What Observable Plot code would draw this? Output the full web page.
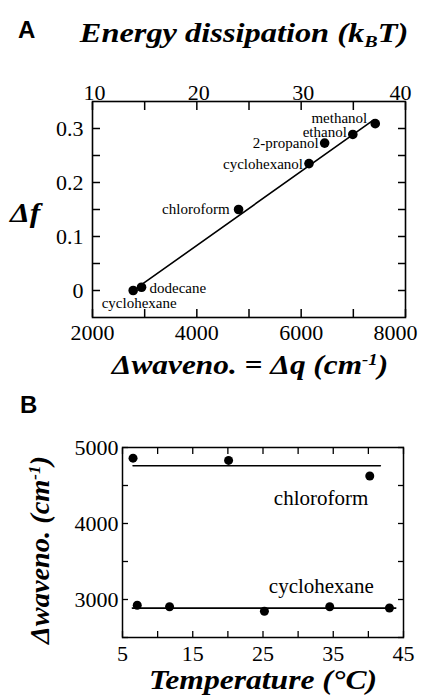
<!DOCTYPE html>
<html><head><meta charset="utf-8">
<script src="https://cdn.jsdelivr.net/npm/d3@7"></script>
<script src="https://cdn.jsdelivr.net/npm/@observablehq/plot@0.6"></script>
<style>
html,body{margin:0;padding:0;background:#fff;}
#wrap{position:relative;width:424px;height:696px;overflow:hidden;background:#fff;}
.abs{position:absolute;white-space:nowrap;line-height:1;color:#000;}
.panel{font-family:"Liberation Sans",Arial,sans-serif;font-weight:bold;font-size:24px;}
.ttl{font-family:"Liberation Serif","Times New Roman",serif;font-weight:bold;font-style:italic;font-size:27px;}
.ttl sub{font-size:62%;vertical-align:-0.28em;line-height:0;}
.ttl sup{font-size:60%;vertical-align:0.55em;line-height:0;}
.chart{position:absolute;left:0;}
.chart svg, .chart svg text{font-family:"Liberation Serif","Times New Roman",serif !important;}
</style></head>
<body>
<div id="wrap">
  <div class="abs panel" style="left:18px;top:18px;">A</div>
  <div class="abs ttl" style="left:244px;top:20px;transform:translateX(-50%) scaleX(1.2);">Energy dissipation (k<sub>B</sub>T)</div>
  <div class="abs ttl" style="left:10px;top:200px;transform-origin:0 0;transform:scaleX(1.17);">Δf</div>
  <div class="abs ttl" style="left:250px;top:352px;transform:translateX(-50%) scaleX(1.16);">Δwaveno. = Δq (cm<sup>-1</sup>)</div>
  <div id="chartA" class="chart" style="top:0px;"></div>
  <div class="abs panel" style="left:20px;top:393px;">B</div>
  <div id="chartB" class="chart" style="top:392px;"></div>
  <div class="abs ttl" style="left:40px;top:550px;transform:translate(-50%,-50%) rotate(-90deg) scaleX(1.05);">Δwaveno. (cm<sup>-1</sup>)</div>
  <div class="abs ttl" style="left:263px;top:667px;transform:translateX(-50%) scaleX(1.17);">Temperature (°C)</div>
</div>
<script>
// ---- Panel A data ----
const solvents = ["cyclohexane", "dodecane", "chloroform", "cyclohexanol", "2-propanol", "ethanol", "methanol"];
const dWaveno = [2780, 2940, 4800, 6150, 6450, 6990, 7420];
const dF = [0.000, 0.006, 0.150, 0.235, 0.273, 0.289, 0.309];
const fitWaveno = [2980, 7390];
const fitDF = [0.0135, 0.316];
const wavenoTicks = [2000, 3000, 4000, 5000, 6000, 7000, 8000];
const wavenoLabels = [2000, 4000, 6000, 8000];
const energyTicks = [10, 15, 20, 25, 30, 35, 40];
const energyLabels = [10, 20, 30, 40];
const dfTicks = [0, 0.05, 0.1, 0.15, 0.2, 0.25, 0.3];
const dfLabels = [0, 0.1, 0.2, 0.3];
const wavenoPerKT = wavenoLabels[0] / energyLabels[0]; // 10 kBT <-> 2000 cm-1

// ---- Panel B data ----
const chloroTemp = [6.5, 20.1, 40.2];
const chloroWaveno = [4860, 4830, 4625];
const chloroMeanTemp = [6.5, 41.7];
const chloroMeanWaveno = [4760, 4760];
const cycloTemp = [7.1, 11.7, 25.2, 34.5, 43.0];
const cycloWaveno = [2925, 2905, 2845, 2905, 2888];
const cycloMeanTemp = [6.4, 43.9];
const cycloMeanWaveno = [2887, 2887];
const tempTicks = [5, 10, 15, 20, 25, 30, 35, 40, 45];
const tempLabels = [5, 15, 25, 35, 45];
const wTicks = [2500, 3000, 3500, 4000, 4500, 5000];
const wLabels = [3000, 4000, 5000];

// ---- styles ----
const labelPlacement = {
  "methanol":     {textAnchor: "end", dx: -8, dy: -5},
  "ethanol":      {textAnchor: "end", dx: -6, dy: -2},
  "2-propanol":   {textAnchor: "end", dx: -6, dy: 0},
  "cyclohexanol": {textAnchor: "end", dx: -6, dy: 1},
  "chloroform":   {textAnchor: "end", dx: -9, dy: 0},
  "dodecane":     {textAnchor: "start", dx: 8, dy: 1},
  "cyclohexane":  {textAnchor: "middle", dx: 6, dy: 13}
};
const serif = "Liberation Serif, Times New Roman, serif";
const fmtInt = d3.format("d");

const rowsA = solvents.map((name, i) => ({name, q: dWaveno[i], f: dF[i]}));
const fitA = fitWaveno.map((q, i) => ({q, f: fitDF[i]}));
const energyLabelQ = energyLabels.map(e => e * wavenoPerKT);

const tickA = 8;
const chartA = Plot.plot({
  width: 424, height: 392,
  marginTop: 101, marginBottom: 75, marginLeft: 92, marginRight: 19,
  style: {fontFamily: serif, fontSize: "22px", color: "#000", background: "transparent", overflow: "visible"},
  x: {domain: [2000, 8000]},
  y: {domain: [-0.05, 0.35]},
  marks: [
    Plot.axisX(wavenoTicks, {anchor: "bottom", tickSize: tickA, dy: -tickA, tickFormat: () => "", label: null, strokeWidth: 1.5}),
    Plot.axisX(energyTicks.map(e => e * wavenoPerKT), {anchor: "top", tickSize: tickA, dy: tickA, tickFormat: () => "", label: null, strokeWidth: 1.5}),
    Plot.axisY(dfTicks, {anchor: "left", tickSize: tickA, dx: tickA, tickFormat: () => "", label: null, strokeWidth: 1.5}),
    Plot.axisY(dfTicks, {anchor: "right", tickSize: tickA, dx: -tickA, tickFormat: () => "", label: null, strokeWidth: 1.5}),
    Plot.axisX(wavenoLabels.slice(0, -1), {anchor: "bottom", tickSize: 0, tickPadding: 7, tickFormat: fmtInt, label: null, fontSize: 22, fontFamily: serif}),
    Plot.axisX(wavenoLabels.slice(-1), {anchor: "bottom", tickSize: 0, tickPadding: 7, dx: -10, tickFormat: fmtInt, label: null, fontSize: 22, fontFamily: serif}),
    Plot.axisX(energyLabelQ.slice(0, -1), {anchor: "top", tickSize: 0, tickPadding: 2, dx: 2, tickFormat: q => fmtInt(q / wavenoPerKT), label: null, fontSize: 22, fontFamily: serif}),
    Plot.axisX(energyLabelQ.slice(-1), {anchor: "top", tickSize: 0, tickPadding: 2, dx: -5, tickFormat: q => fmtInt(q / wavenoPerKT), label: null, fontSize: 22, fontFamily: serif}),
    Plot.axisY(dfLabels, {anchor: "left", tickSize: 0, tickPadding: 9, tickFormat: d => d === 0 ? "0" : d3.format(".1f")(d), label: null, fontSize: 22, fontFamily: serif}),
    Plot.frame({strokeWidth: 1.6}),
    Plot.line(fitA, {x: "q", y: "f", stroke: "#000", strokeWidth: 1.6}),
    Plot.dot(rowsA, {x: "q", y: "f", r: 4.8, fill: "#000", stroke: "none"}),
    ...solvents.map(name => Plot.text(rowsA.filter(r => r.name === name), {
      x: "q", y: "f", text: "name", fontSize: 15, fontFamily: serif, fill: "#000", ...labelPlacement[name]
    }))
  ]
});
document.getElementById("chartA").appendChild(chartA);

const chloroRows = chloroTemp.map((t, i) => ({t, w: chloroWaveno[i]}));
const cycloRows = cycloTemp.map((t, i) => ({t, w: cycloWaveno[i]}));
const chloroMean = chloroMeanTemp.map((t, i) => ({t, w: chloroMeanWaveno[i], name: "chloroform"}));
const cycloMean = cycloMeanTemp.map((t, i) => ({t, w: cycloMeanWaveno[i], name: "cyclohexane"}));

const tickB = 6;
const chartB = Plot.plot({
  width: 424, height: 304,
  marginTop: 55, marginBottom: 59, marginLeft: 122, marginRight: 21,
  style: {fontFamily: serif, fontSize: "22px", color: "#000", background: "transparent", overflow: "visible"},
  x: {domain: [5, 45]},
  y: {domain: [2500, 5000]},
  marks: [
    Plot.axisX(tempTicks, {anchor: "bottom", tickSize: tickB, dy: -tickB, tickFormat: () => "", label: null, strokeWidth: 1.3}),
    Plot.axisX(tempTicks, {anchor: "top", tickSize: tickB, dy: tickB, tickFormat: () => "", label: null, strokeWidth: 1.3}),
    Plot.axisY(wTicks, {anchor: "left", tickSize: tickB, dx: tickB, tickFormat: () => "", label: null, strokeWidth: 1.3}),
    Plot.axisY(wTicks, {anchor: "right", tickSize: tickB, dx: -tickB, tickFormat: () => "", label: null, strokeWidth: 1.3}),
    Plot.axisX(tempLabels, {anchor: "bottom", tickSize: 0, tickPadding: 8, tickFormat: fmtInt, label: null, fontSize: 22, fontFamily: serif}),
    Plot.axisY(wLabels, {anchor: "left", tickSize: 0, tickPadding: 4, tickFormat: fmtInt, label: null, fontSize: 22, fontFamily: serif}),
    Plot.frame({strokeWidth: 1.5}),
    Plot.line(chloroMean, {x: "t", y: "w", stroke: "#000", strokeWidth: 1.6}),
    Plot.line(cycloMean, {x: "t", y: "w", stroke: "#000", strokeWidth: 1.6}),
    Plot.dot(chloroRows, {x: "t", y: "w", r: 4.5, fill: "#000", stroke: "none"}),
    Plot.dot(cycloRows, {x: "t", y: "w", r: 4.5, fill: "#000", stroke: "none"}),
    Plot.text(chloroMean.slice(-1), {x: "t", y: "w", text: "name", textAnchor: "end", dx: -12, dy: 33, fontSize: 21, fontFamily: serif, fill: "#000"}),
    Plot.text(cycloMean.slice(-1), {x: "t", y: "w", text: "name", textAnchor: "end", dx: -22, dy: -22, fontSize: 21, fontFamily: serif, fill: "#000"})
  ]
});
document.getElementById("chartB").appendChild(chartB);
</script>
</body></html>
